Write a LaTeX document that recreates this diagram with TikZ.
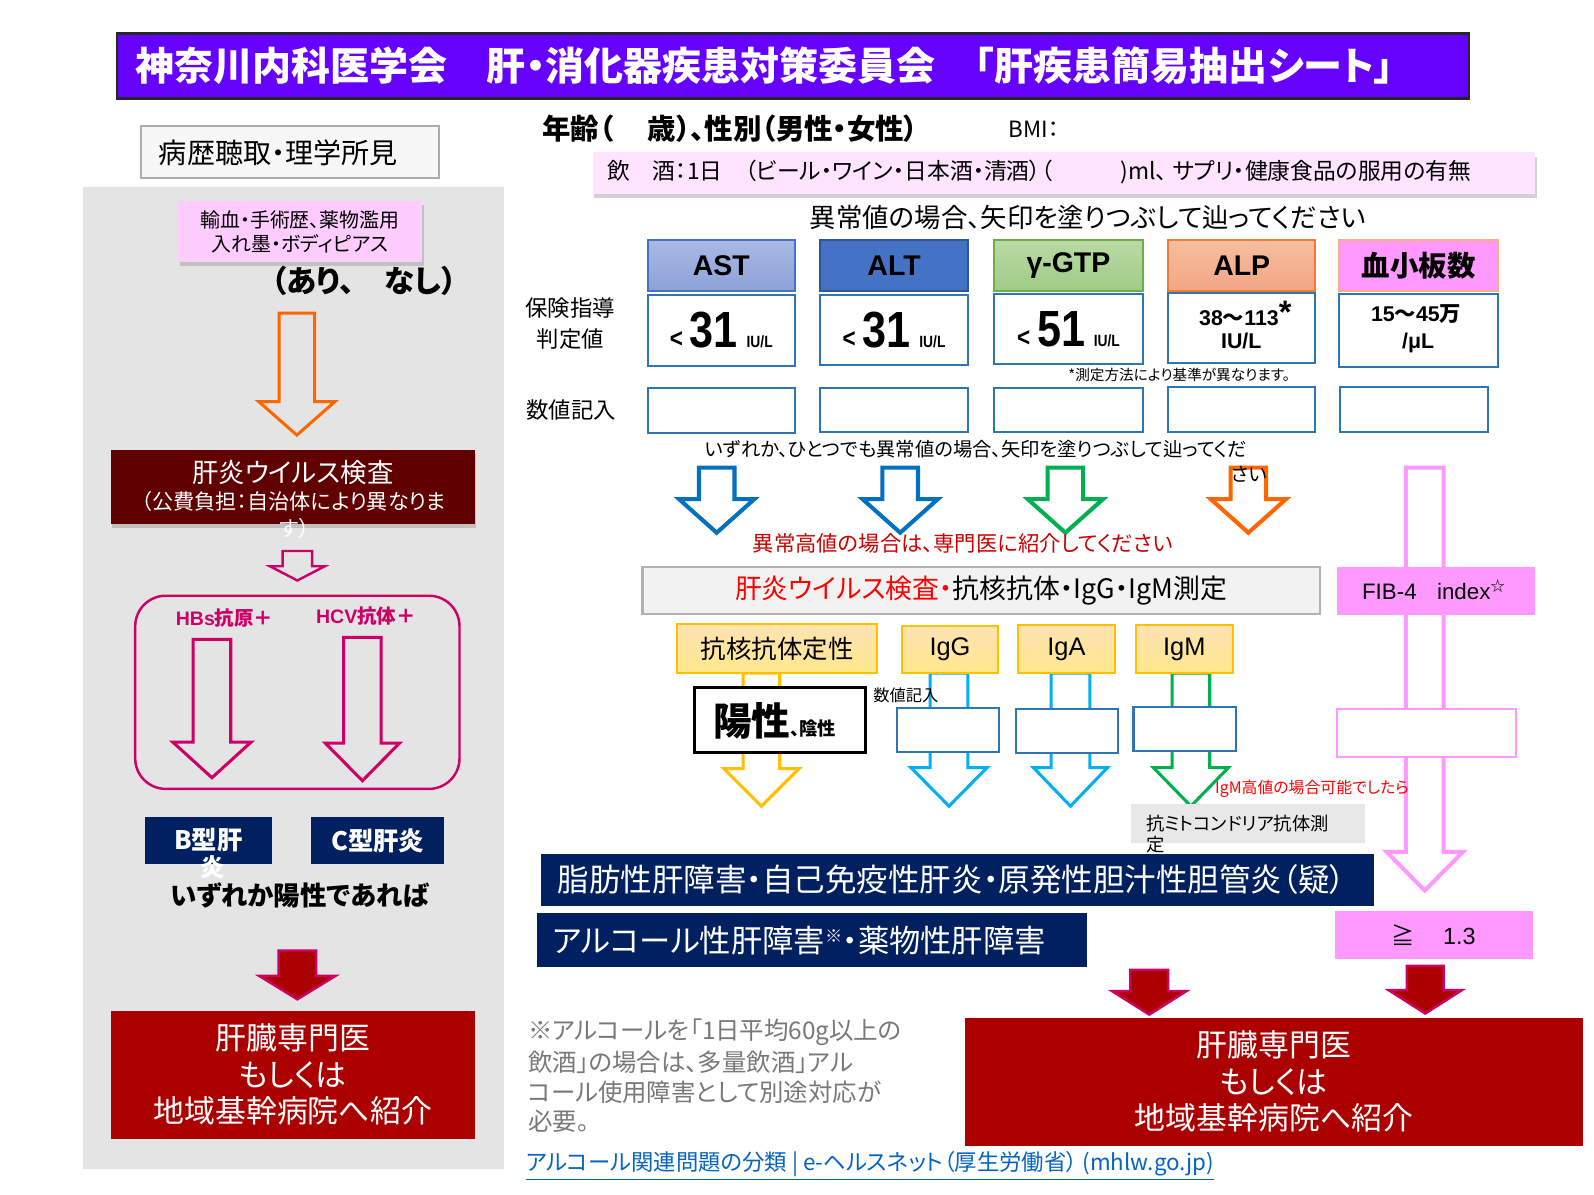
\documentclass[tikz,border=0pt]{standalone}
\usepackage{fontspec}
\setmainfont{Noto Sans CJK JP}[RawFeature=+palt]
\newfontfamily\ar{Liberation Sans}
\newfontfamily\jp{Noto Sans CJK JP}[RawFeature=+palt]
\usetikzlibrary{shadows}
\definecolor{titleviolet}{RGB}{102,0,255}
\definecolor{panelgray}{RGB}{228,228,228}
\definecolor{pinkbox}{RGB}{255,204,255}
\definecolor{lightpink}{RGB}{255,228,255}
\definecolor{maroon}{RGB}{96,0,0}
\definecolor{mag}{RGB}{204,0,102}
\definecolor{navy}{RGB}{0,32,96}
\definecolor{dred}{RGB}{172,0,0}
\definecolor{aorange}{RGB}{255,102,0}
\definecolor{ablue}{RGB}{0,112,192}
\definecolor{agreen}{RGB}{0,176,80}
\definecolor{lblue}{RGB}{0,176,240}
\definecolor{ayellow}{RGB}{255,192,0}
\definecolor{fpink}{RGB}{255,153,255}
\definecolor{vblue}{RGB}{46,117,182}
\definecolor{linkblue}{RGB}{5,99,193}
\definecolor{notegray}{RGB}{120,120,120}
\newcommand\fs[2]{\fontsize{#1}{#2}\selectfont}
% #1 style, #2 cx, #3 top, #4 shaft half, #5 head y, #6 head half, #7 tip
\newcommand\barrow[7]{\draw[#1] ({#2-#4},#3) -- ({#2+#4},#3) -- ({#2+#4},#5) -- ({#2+#6},#5) -- (#2,#7) -- ({#2-#6},#5) -- ({#2-#4},#5) -- cycle;}
% #1 style, #2 name, #3 x1, #4 y1, #5 x2, #6 y2, #7 text
\newcommand\rbox[7]{\node[bx, #1, minimum width={(#5-#3)*0.5pt}, minimum height={(#6-#4)*0.5pt}] (#2) at ({(#3+#5)/2},{(#4+#6)/2}) {#7};}
\begin{document}
\begin{tikzpicture}[x=0.5pt,y=-0.5pt,
  bx/.style={inner sep=0pt, outer sep=0pt, align=center},
  shad/.style={drop shadow={opacity=0.35, shadow xshift=0.8pt, shadow yshift=-2pt}},
  vbox/.style={fill=white, draw=vblue, line width=1pt},
  hdr/.style={line width=1pt, font=\ar\bfseries\fs{14}{14}},
  ybox/.style={top color=yellow!25!orange!30, bottom color=yellow!60!orange!45, draw=ayellow, line width=1pt, font=\fs{12.5}{12.5}},
  txt/.style={inner sep=0pt},
  oarrow/.style={line width=2pt, line join=miter},
]
\useasboundingbox (0,0) rectangle (1568,1175);
\fill[white] (0,0) rectangle (1568,1175);

% ---------- title ----------
\rbox{fill=titleviolet, draw=black!85, line width=1.2pt}{title}{115}{33}{1445}{97}{}
\node[txt, anchor=west, text=white, font=\bfseries\fs{19.2}{19.2}] (titletext) at (133,65) {神奈川内科医学会　肝・消化器疾患対策委員会　「肝疾患簡易抽出シート」};

% ---------- left column ----------
\rbox{fill=gray!6, draw=gray!65, line width=1pt}{hist}{139}{124}{432}{175}{}
\node[txt, anchor=west, font=\fs{13.8}{13.8}] (histtext) at (156,150) {病歴聴取・理学所見};

\rbox{fill=panelgray}{panel}{82}{184}{496}{1150}{}

\rbox{fill=pinkbox, shad, font=\fs{9.8}{11.5}}{hx}{175}{198}{415}{258}{輸血・手術歴、薬物濫用\\入れ墨・ボディピアス}
\node[txt, font=\bfseries\fs{15}{15}] (ari) at (358,276) {（あり、　なし）};

\barrow{aorange, line width=1.5pt}{292}{308}{17.5}{395}{37.5}{428}

\rbox{fill=maroon, shad}{virus}{109}{443}{467}{515}{}
\node[txt, text=white, font=\fs{13}{13}] (virus1) at (288,465) {肝炎ウイルス検査};
\node[txt, text=white, font=\fs{10.4}{10.4}] (virus2) at (289,493) {（公費負担：自治体により異なりま};
\node[txt, text=white, font=\fs{10.4}{10.4}] (virus3) at (290,520) {す）};

\barrow{mag, line width=1.2pt}{292.5}{542}{14.5}{557}{27}{571}

\rbox{draw=mag, line width=1.2pt, rounded corners=15pt}{hbox}{133}{586}{452}{776}{}
\node[txt, text=mag, font=\ar\bfseries\fs{9.6}{9.6}] (hbs) at (221,608) {HBs{\jp\bfseries 抗原＋}};
\node[txt, text=mag, font=\ar\bfseries\fs{9.6}{9.6}] (hcv) at (360,606) {HCV{\jp\bfseries 抗体＋}};
\barrow{mag, line width=1.5pt}{208.5}{629}{18.5}{730}{38.5}{765}
\barrow{mag, line width=1.5pt}{356.5}{627}{18.5}{731}{36.5}{768}

\rbox{fill=navy}{bh}{143}{804}{268}{850}{}
\node[txt, text=white, font=\bfseries\fs{12.5}{12.5}] (bht) at (205,826) {B型肝};
\node[txt, text=white, font=\bfseries\fs{12}{12}] (bht2) at (209,853) {炎};
\rbox{fill=navy, text=white, font=\bfseries\fs{12.5}{12.5}}{ch}{306}{804}{437}{850}{C型肝炎}

\node[txt, font=\bfseries\fs{13}{13}] (either) at (295,881) {いずれか陽性であれば};

\barrow{fill=dred, draw=mag, line width=1.2pt}{292.5}{935}{18.5}{960}{37.5}{983}
\rbox{fill=dred, text=white, font=\fs{15.2}{18}}{refL}{109}{994}{467}{1120}{肝臓専門医\\もしくは\\地域基幹病院へ紹介}

% ---------- right: header ----------
\node[txt, anchor=west, font=\bfseries\fs{14}{14}] (age) at (533,127) {年齢（\hspace{17pt}歳）、性別（男性・女性）};
\node[txt, anchor=west, font=\fs{11}{11}] (bmi) at (992,127) {BMI：};

\rbox{fill=lightpink, shad}{drink}{583}{150}{1510}{191}{}
\node[txt, anchor=west, font=\fs{11.2}{11.2}] (drinktext) at (597,169) {飲　酒：1日　（ビール・ワイン・日本酒・清酒）（　　　)ml、 サプリ・健康食品の服用の有無};

\node[txt, font=\fs{13}{13}] (instr) at (1070,214) {異常値の場合、矢印を塗りつぶして辿ってください};

\rbox{hdr, top color={rgb,255:red,170;green,185;blue,228}, bottom color={rgb,255:red,140;green,162;blue,216}, draw={rgb,255:red,68;green,114;blue,196}}{ast}{637}{236}{782}{286}{AST}
\rbox{hdr, fill={rgb,255:red,68;green,114;blue,196}, draw={rgb,255:red,47;green,85;blue,151}}{alt}{807}{236}{952}{286}{ALT}
\rbox{hdr, top color={rgb,255:red,185;green,218;blue,165}, bottom color={rgb,255:red,160;green,203;blue,133}, draw={rgb,255:red,112;green,173;blue,71}}{gtp}{978}{236}{1124}{286}{γ-GTP}
\rbox{hdr, top color={rgb,255:red,246;green,190;blue,160}, bottom color={rgb,255:red,242;green,166;blue,132}, draw={rgb,255:red,237;green,125;blue,49}}{alp}{1149}{236}{1294}{286}{ALP}
\rbox{hdr, fill=fpink, draw={rgb,255:red,244;green,177;blue,131}, font=\bfseries\fs{14}{14}}{plt}{1317}{236}{1474}{286}{血小板数}

\node[txt, align=center, font=\fs{11}{15}] (hoken) at (561,318) {保険指導\\判定値};

\rbox{vbox}{astv}{637}{290}{782}{360}{\scalebox{0.85}[1]{\ar\bfseries\fs{13}{13}<\hspace{4pt}\fs{25}{25}31\hspace{5pt}\fs{8}{8}IU/L}}
\rbox{vbox}{altv}{807}{290}{952}{359}{\scalebox{0.85}[1]{\ar\bfseries\fs{13}{13}<\hspace{4pt}\fs{25}{25}31\hspace{5pt}\fs{8}{8}IU/L}}
\rbox{vbox}{gtpv}{978}{289}{1124}{358}{\scalebox{0.85}[1]{\ar\bfseries\fs{13}{13}<\hspace{4pt}\fs{25}{25}51\hspace{5pt}\fs{8}{8}IU/L}}
\rbox{vbox}{alpv}{1149}{288}{1294}{357}{}
\node[txt, font=\ar\bfseries\fs{10.5}{10.5}] (alpv1) at (1225,308) {38{\jp\bfseries ～}113\raisebox{1pt}{\fs{16}{16}*}};
\node[txt, font=\ar\bfseries\fs{10.5}{10.5}] (alpv2) at (1221,335) {IU/L};
\rbox{vbox}{pltv}{1317}{289}{1474}{361}{}
\node[txt, font=\ar\bfseries\fs{10.5}{10.5}] (pltv1) at (1393,309) {15{\jp\bfseries ～}45{\jp\bfseries 万}};
\node[txt, font=\ar\bfseries\fs{10.5}{10.5}] (pltv2) at (1395,337) {/μL};

\node[txt, font=\fs{7.2}{7.2}] (note1) at (1160,369) {*測定方法により基準が異なります。};

\node[txt, font=\fs{11}{11}] (suchi) at (562,403) {数値記入};
\rbox{vbox}{astin}{637}{382}{782}{426}{}
\rbox{vbox}{altin}{807}{382}{952}{425}{}
\rbox{vbox}{gtpin}{978}{382}{1124}{425}{}
\rbox{vbox}{alpin}{1149}{381}{1294}{425}{}
\rbox{vbox}{pltin}{1318}{381}{1464}{425}{}

% ---------- arrows row ----------
\barrow{ablue, oarrow}{705}{460}{17.5}{491}{37}{524}
\barrow{ablue, oarrow}{885.5}{460}{17.5}{491}{37}{524}
\barrow{agreen, oarrow}{1048}{460}{17.5}{491}{37}{524}
\barrow{aorange, oarrow}{1228}{460}{17.5}{491}{37}{524}
\barrow{fpink, oarrow}{1401.5}{460}{18.5}{838}{37.5}{876}

\node[txt, anchor=west, font=\fs{9.5}{9.5}] (any1) at (693,442) {いずれか、ひとつでも異常値の場合、矢印を塗りつぶして辿ってくだ};
\node[txt, font=\fs{9.5}{9.5}] (any2) at (1229,466) {さい};

\node[txt, text={rgb,255:red,204;green,0;blue,0}, font=\fs{10.5}{10.5}] (hi) at (947,535) {異常高値の場合は、専門医に紹介してください};

\rbox{fill=gray!10, draw=gray!60, line width=1pt}{tests}{632}{558}{1298}{604}{}
\node[txt, font=\fs{13.2}{13.2}] (teststext) at (965,581) {\textcolor{red}{肝炎ウイルス検査・}抗核抗体・IgG・IgM測定};

\rbox{fill=fpink}{fib}{1315}{558}{1510}{605}{}
\node[txt, font=\ar\fs{11}{11}] (fibtext) at (1410,580) {FIB-4\hspace{10pt}index\raisebox{4pt}{\jp\fs{7}{7}☆}};
\rbox{fill=white, draw=fpink, line width=1pt}{fibin}{1315}{697}{1491}{745}{}

% ---------- antibody row ----------
\barrow{ayellow, line width=1.5pt}{749}{662}{18}{756}{37}{793}
\barrow{lblue, line width=1.5pt}{933.5}{662}{18.5}{755}{37.5}{793}
\barrow{lblue, line width=1.5pt}{1053}{662}{19}{755}{36.5}{793}
\barrow{agreen, line width=1.5pt}{1171.5}{662}{18.5}{755}{37}{793}

\rbox{ybox}{ana}{666}{614}{863}{662}{抗核抗体定性}
\rbox{ybox, font=\ar\fs{12.5}{12.5}}{igg}{887}{616}{982}{662}{IgG}
\rbox{ybox, font=\ar\fs{12.5}{12.5}}{iga}{1001}{615}{1097}{662}{IgA}
\rbox{ybox, font=\ar\fs{12.5}{12.5}}{igm}{1117}{615}{1213}{662}{IgM}

\rbox{fill=white, draw=black, line width=1.5pt}{pos}{683}{676}{851}{740}{}
\node[txt, font=\bfseries\fs{19}{19}] (postext) at (762,709) {陽性\fs{9}{9}、陰性};
\node[txt, font=\fs{8}{8}] (suchi2) at (891,684) {数値記入};
\rbox{vbox}{iggin}{882}{696}{983}{740}{}
\rbox{vbox}{igain}{999}{697}{1100}{741}{}
\rbox{vbox}{igmin}{1115}{695}{1216}{739}{}

\node[txt, anchor=west, text=red, font=\fs{7.8}{7.8}] (igmhi) at (1195,776) {IgM高値の場合可能でしたら};
\rbox{fill=gray!18}{ama}{1113}{791}{1343}{829}{}
\node[txt, anchor=west, font=\fs{9}{9}] (amatext) at (1127,810) {抗ミトコンドリア抗体測};
\node[txt, anchor=west, font=\fs{9}{9}] (amatext2) at (1127,831) {定};

\rbox{fill=navy}{diag1}{532}{840}{1352}{891}{}
\node[txt, anchor=west, text=white, font=\fs{15.5}{15.5}] (diag1t) at (548,865) {脂肪性肝障害・自己免疫性肝炎・原発性胆汁性胆管炎（疑）};
\rbox{fill=navy}{diag2}{528}{898}{1069}{951}{}
\node[txt, anchor=west, text=white, font=\fs{15.4}{15.4}] (diag2t) at (543,925) {アルコール性肝障害\raisebox{5pt}{\fs{8.5}{8.5}※}・薬物性肝障害};

\rbox{fill=fpink}{ge}{1313}{896}{1508}{943}{}
\node[txt, font=\ar\fs{11.5}{11.5}] (getext) at (1410,920) {{\jp ≧}\hspace{14pt}1.3};

\barrow{fill=dred, draw=mag, line width=1.2pt}{1130.5}{954}{18.5}{975}{36.5}{998}
\barrow{fill=dred, draw=mag, line width=1.2pt}{1402}{950}{18}{974}{36}{997}

\rbox{fill=dred, text=white, font=\fs{15.2}{18}}{refR}{949}{1001}{1557}{1127}{肝臓専門医\\もしくは\\地域基幹病院へ紹介}

\node[txt, anchor=west, text=notegray, font=\fs{12}{12}] (n1) at (519,1015) {※アルコールを「1日平均60g以上の};
\node[txt, anchor=west, text=notegray, font=\fs{12}{12}] (n2) at (519,1045) {飲酒」の場合は、多量飲酒」アル};
\node[txt, anchor=west, text=notegray, font=\fs{12}{12}] (n3) at (519,1074) {コール使用障害として別途対応が};
\node[txt, anchor=west, text=notegray, font=\fs{12}{12}] (n4) at (519,1103) {必要。};

\node[txt, anchor=west, text=linkblue, font=\fs{11}{11}] (link) at (517,1147) {\underline{アルコール関連問題の分類 | e-ヘルスネット（厚生労働省） (mhlw.go.jp)}};
\end{tikzpicture}
\end{document}
